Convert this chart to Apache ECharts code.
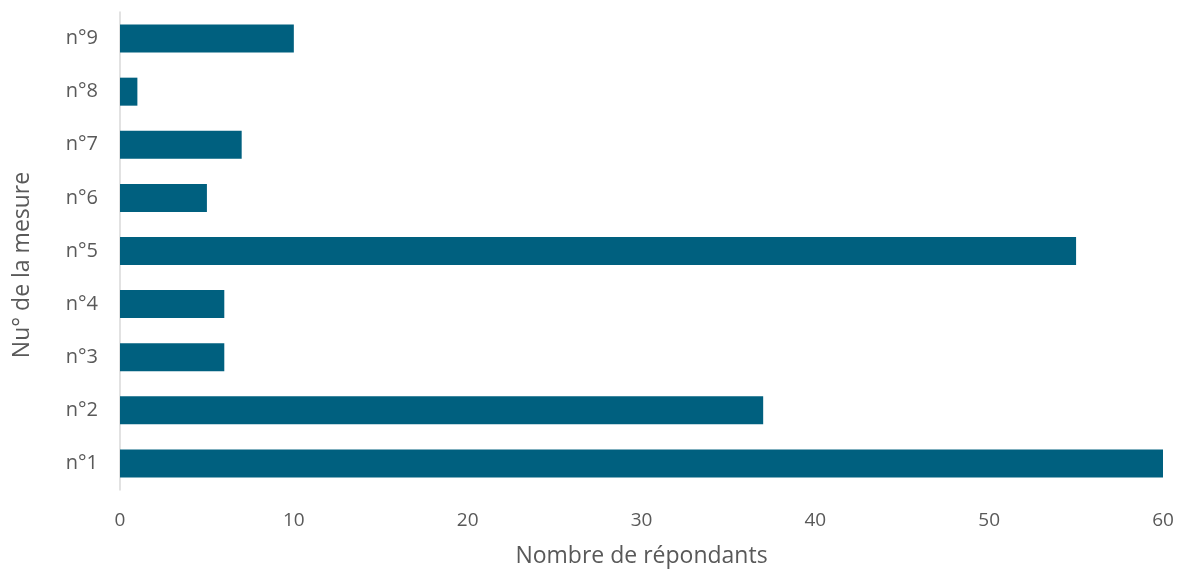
<!DOCTYPE html>
<html>
<head>
<meta charset="utf-8">
<script src="https://cdn.jsdelivr.net/npm/echarts@6/dist/echarts.min.js"></script>
<style>
  html, body { margin: 0; padding: 0; background: #fff; }
  #chart { width: 1180px; height: 573px; }
</style>
</head>
<body>
<div id="chart"></div>
<script>
// measure numbers, bottom to top
const categories = ['n°1', 'n°2', 'n°3', 'n°4', 'n°5', 'n°6', 'n°7', 'n°8', 'n°9'];
const respondents = [60, 37, 6, 6, 55, 5, 7, 1, 10];

const textColor = '#595959';
const fontFamily = '"Open Sans", "Noto Sans", sans-serif';

const chart = echarts.init(document.getElementById('chart'));
chart.setOption({
  animation: false,
  textStyle: { fontFamily: fontFamily },
  grid: { left: 120, right: 17, top: 12, bottom: 83, containLabel: false },
  xAxis: {
    type: 'value',
    min: 0,
    max: 60,
    interval: 10,
    name: 'Nombre de répondants',
    nameLocation: 'middle',
    nameGap: 55,
    nameTextStyle: { color: textColor, fontSize: 23, fontFamily: fontFamily },
    axisLine: { show: false },
    axisTick: { show: false },
    splitLine: { show: false },
    axisLabel: { color: textColor, fontSize: 19, margin: 21, fontFamily: fontFamily }
  },
  yAxis: {
    type: 'category',
    data: categories,
    name: 'Nu° de la mesure',
    nameLocation: 'middle',
    nameGap: 86,
    nameTextStyle: { color: textColor, fontSize: 23, fontFamily: fontFamily, padding: [0, 28, 0, 0] },
    axisLine: { show: true, lineStyle: { color: '#d9d9d9', width: 1.5 } },
    axisTick: { show: false },
    axisLabel: { color: textColor, fontSize: 20, margin: 22, fontFamily: fontFamily }
  },
  series: [
    {
      name: 'Répondants',
      type: 'bar',
      data: respondents,
      barWidth: 28,
      itemStyle: { color: '#00607f' }
    }
  ]
});
</script>
</body>
</html>
